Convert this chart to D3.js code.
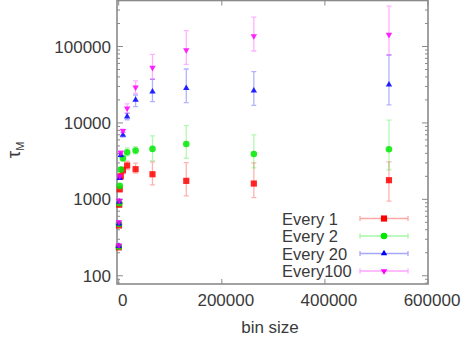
<!DOCTYPE html>
<html>
<head>
<meta charset="utf-8">
<script src="https://cdn.jsdelivr.net/npm/d3@7"></script>
<style>
  body { margin: 0; background: #fff; }
  svg { display: block; font-family: "Liberation Sans", Arial, sans-serif; }
</style>
</head>
<body>
<svg id="chart" width="463" height="343"></svg>
<script>
/* bin sizes on the x axis */
var binSizes = [256, 512, 1024, 2048, 4096, 8192, 16384, 32768, 65536, 131072, 262144, 524288];

/* tau_M values and error bounds, one set per sampling interval */
var every1    = [235, 455, 850, 1350, 2000, 2400, 2770, 2480, 2130, 1745, 1610, 1780];
var every1Lo  = [225, 435, 810, 1270, 1850, 2150, 2450, 2200, 1550, 1110, 1050, 950];
var every1Hi  = [245, 475, 890, 1440, 2150, 2650, 3150, 2980, 3100, 3030, 3000, 3100];

var every2    = [240, 475, 890, 1500, 2450, 3450, 4140, 4350, 4570, 5310, 3930, 4530];
var every2Lo  = [230, 455, 850, 1420, 2300, 3150, 3700, 3930, 3190, 3450, 2580, 2430];
var every2Hi  = [250, 495, 930, 1580, 2600, 3750, 4700, 4900, 6760, 9220, 6970, 10900];

var every20   = [245, 480, 930, 1900, 3800, 6970, 12100, 20000, 25700, 28500, 26400, 31700];
var every20Lo = [235, 460, 890, 1820, 3600, 6500, 11000, 16300, 19000, 18400, 17000, 17200];
var every20Hi = [255, 500, 970, 1990, 4000, 7500, 13300, 23200, 37300, 50800, 46900, 77400];

var every100   = [250, 505, 960, 2000, 4100, 7900, 15500, 29300, 52800, 90000, 137000, 142600];
var every100Lo = [240, 485, 920, 1920, 3900, 7500, 13500, 24400, 37300, 58500, 87300, 77400];
var every100Hi = [260, 525, 1000, 2080, 4300, 8300, 17800, 35400, 79000, 161000, 243000, 338000];

var seriesNames = ["Every 1", "Every 2", "Every 20", "Every100"];
var xTicks = [0, 200000, 400000, 600000];
var yTicks = [100, 1000, 10000, 100000];

var series = [
  {name: seriesNames[0], v: every1,   lo: every1Lo,   hi: every1Hi,   color: "#ff0000", shape: d3.symbolSquare,   size: 38},
  {name: seriesNames[1], v: every2,   lo: every2Lo,   hi: every2Hi,   color: "#00e800", shape: d3.symbolCircle,   size: 34},
  {name: seriesNames[2], v: every20,  lo: every20Lo,  hi: every20Hi,  color: "#0000ff", shape: d3.symbolTriangle, size: 18},
  {name: seriesNames[3], v: every100, lo: every100Lo, hi: every100Hi, color: "#ff00ff", shape: d3.symbolTriangle, size: 18, flip: true}
];

var plotL = 117, plotR = 428, plotT = 0.5, plotB = 284;
var frameColor = "#8a8a8a", textColor = "#3a3a3a";

var svg = d3.select("#chart");

var x = d3.scaleLinear().domain([-3300, 600000]).range([plotL, plotR]);
var y = d3.scaleLog().domain([78, 400000]).range([plotB, plotT]);

/* minor log ticks */
var minor = [];
[10, 100, 1000, 10000, 100000].forEach(function(d) {
  for (var k = 2; k <= 9; k++) {
    var v = d * k;
    if (v > y.domain()[0] && v < y.domain()[1]) minor.push(v);
  }
});

var g = svg.append("g");

/* ticks, drawn inward on both sides */
g.selectAll(".ymaj").data(yTicks).enter().append("path")
  .attr("d", function(d) {
    var py = y(d);
    return "M" + plotL + "," + py + "h6M" + plotR + "," + py + "h-6";
  })
  .attr("stroke", frameColor).attr("stroke-width", 1);

g.selectAll(".ymin").data(minor).enter().append("path")
  .attr("d", function(d) {
    var py = y(d);
    return "M" + plotL + "," + py + "h3M" + plotR + "," + py + "h-3";
  })
  .attr("stroke", frameColor).attr("stroke-width", 1);

g.selectAll(".xmaj").data(xTicks).enter().append("path")
  .attr("d", function(d) {
    var px = x(d);
    return "M" + px + "," + plotB + "v-5M" + px + "," + plotT + "v5";
  })
  .attr("stroke", frameColor).attr("stroke-width", 1);

/* frame */
g.append("rect")
  .attr("x", plotL).attr("y", plotT)
  .attr("width", plotR - plotL).attr("height", plotB - plotT)
  .attr("fill", "none").attr("stroke", frameColor).attr("stroke-width", 1.6);

/* tick labels */
g.selectAll(".ylab").data(yTicks).enter().append("text")
  .attr("x", plotL - 6).attr("y", function(d) { return y(d) + 6; })
  .attr("text-anchor", "end")
  .attr("font-size", 17).attr("fill", textColor)
  .text(function(d) { return d; });

g.selectAll(".xlab").data(xTicks).enter().append("text")
  .attr("x", function(d) { return x(d) + 4; }).attr("y", 306)
  .attr("text-anchor", "middle")
  .attr("font-size", 17).attr("fill", textColor)
  .text(function(d) { return d; });

/* axis titles */
g.append("text")
  .attr("x", 270).attr("y", 333)
  .attr("text-anchor", "middle")
  .attr("font-size", 17).attr("fill", textColor)
  .text("bin size");

var yt = g.append("text")
  .attr("transform", "translate(20,150) rotate(-90)")
  .attr("text-anchor", "middle")
  .attr("font-size", 19).attr("fill", textColor);
yt.append("tspan").text("τ");
yt.append("tspan").attr("font-size", 11).attr("dy", 4).text("M");

/* error bars and points */
series.forEach(function(s) {
  var sg = g.append("g");
  var rows = binSizes.map(function(b, i) { return {b: b, v: s.v[i], lo: s.lo[i], hi: s.hi[i]}; });

  sg.selectAll(".eb").data(rows).enter().append("path")
    .attr("d", function(d) {
      var px = x(d.b), y0 = y(d.lo), y1 = y(d.hi);
      return "M" + px + "," + y0 + "V" + y1 +
        "M" + (px - 2.5) + "," + y0 + "h5" +
        "M" + (px - 2.5) + "," + y1 + "h5";
    })
    .attr("stroke", s.color).attr("stroke-opacity", 0.3)
    .attr("stroke-width", 1.3).attr("fill", "none");

  sg.selectAll(".pt").data(rows).enter().append("path")
    .attr("d", d3.symbol().type(s.shape).size(s.size))
    .attr("transform", function(d) {
      return "translate(" + x(d.b) + "," + y(d.v) + ")" + (s.flip ? " rotate(180)" : "");
    })
    .attr("fill", s.color).attr("fill-opacity", 0.85);
});

/* legend */
var leg = g.selectAll(".leg").data(series).enter().append("g")
  .attr("transform", function(d, i) { return "translate(0," + (218.5 + i * 17.5) + ")"; });

leg.append("text")
  .attr("x", 282).attr("y", 6)
  .attr("font-size", 16.5).attr("fill", textColor)
  .text(function(d) { return d.name; });

leg.append("path")
  .attr("d", "M360,0H408M360,-2.5v5M408,-2.5v5")
  .attr("stroke", function(d) { return d.color; })
  .attr("stroke-opacity", 0.35).attr("stroke-width", 1.3).attr("fill", "none");

leg.append("path")
  .attr("d", function(d) { return d3.symbol().type(d.shape).size(d.size)(); })
  .attr("transform", function(d) { return "translate(384,0)" + (d.flip ? " rotate(180)" : ""); })
  .attr("fill", function(d) { return d.color; });
</script>
</body>
</html>
